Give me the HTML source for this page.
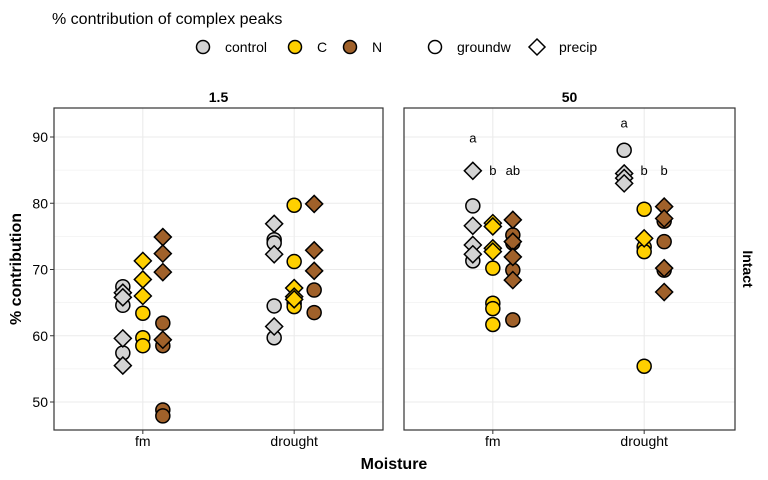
<!DOCTYPE html>
<html><head><meta charset="utf-8"><style>body{margin:0;background:#fff}svg{display:block;font-family:"Liberation Sans",Arial,sans-serif}</style></head>
<body>
<svg id="c" width="768" height="480"></svg>
<script>
const categories = ["fm","drought"];
const panels = ["1.5","50"];
const treatments = ["control","C","N"];
const yTicks = [50,60,70,80,90];
const p15_fm_control_g = [67.4,64.6,57.4];
const p15_fm_control_p = [66.5,65.8,59.6,55.5];
const p15_fm_C_g = [63.4,59.7,58.5];
const p15_fm_C_p = [71.3,68.5,66.0];
const p15_fm_N_g = [61.9,58.5,48.8,47.9];
const p15_fm_N_p = [74.9,72.4,69.6,59.4];
const p15_dr_control_g = [74.5,74.0,64.5,59.7];
const p15_dr_control_p = [76.9,72.3,61.4];
const p15_dr_C_g = [79.7,71.2,64.9,64.4];
const p15_dr_C_p = [67.2,65.9,65.5];
const p15_dr_N_g = [66.9,63.5];
const p15_dr_N_p = [79.9,72.9,69.8];
const p50_fm_control_g = [79.6,71.3];
const p50_fm_control_p = [84.9,76.6,73.7,72.3];
const p50_fm_C_g = [70.2,64.9,64.1,61.7];
const p50_fm_C_p = [77.0,76.5,73.2,72.7];
const p50_fm_N_g = [75.2,74.0,69.9,62.4];
const p50_fm_N_p = [77.5,74.2,71.9,68.4];
const p50_dr_control_g = [88.0];
const p50_dr_control_p = [84.5,83.8,83.0];
const p50_dr_C_g = [79.1,73.4,72.7,55.4];
const p50_dr_C_p = [74.7];
const p50_dr_N_g = [77.3,74.2,69.9];
const p50_dr_N_p = [79.5,77.7,70.2,66.6];
const letters50_fm = ["a","b","ab"];
const letters50_dr = ["a","b","b"];
const letterY50_fm = [89.9,85.0,85.0];
const letterY50_dr = [92.2,85.0,85.0];

const data = [
 [[[p15_fm_control_g,p15_fm_control_p],[p15_fm_C_g,p15_fm_C_p],[p15_fm_N_g,p15_fm_N_p]],
  [[p15_dr_control_g,p15_dr_control_p],[p15_dr_C_g,p15_dr_C_p],[p15_dr_N_g,p15_dr_N_p]]],
 [[[p50_fm_control_g,p50_fm_control_p],[p50_fm_C_g,p50_fm_C_p],[p50_fm_N_g,p50_fm_N_p]],
  [[p50_dr_control_g,p50_dr_control_p],[p50_dr_C_g,p50_dr_C_p],[p50_dr_N_g,p50_dr_N_p]]]];
const fills = {control:"#d3d3d3",C:"#ffd000",N:"#a0612a"};
const svg = document.getElementById('c');
const NS = "http://www.w3.org/2000/svg";
function mk(t,a,txt,parent){const e=document.createElementNS(NS,t);for(const k in a)e.setAttribute(k,a[k]);if(txt!=null)e.textContent=txt;(parent||svg).appendChild(e);return e;}
const pTop=108,pBot=430;
const yScale = v => 402-(v-50)*6.625;
const panelX = [54,404], panelW = [329,331];
const xCat = (p,i) => panelX[p] + 329*(0.27+0.46*i);
let e;
e=mk('text',{x:52,y:24,'font-size':16,fill:'#000'},'% contribution of complex peaks');


const lg = mk('g',{});


const legItems=[[203,'control',fills.control,'c'],[295,'C',fills.C,'c'],[350,'N',fills.N,'c'],[435,'groundw','#fff','c'],[537,'precip','#fff','d']];
legItems.forEach(it=>{
 const g=mk('g',{},null,lg);
 
 
 if(it[3]=='c') mk('circle',{cx:it[0],cy:47,r:6.5,fill:it[2],stroke:'#000','stroke-width':1.5},null,g);
 else mk('path',{d:`M${it[0]} 39 L${it[0]+8} 47 L${it[0]} 55 L${it[0]-8} 47Z`,fill:'#fff',stroke:'#000','stroke-width':1.5},null,g);
 mk('text',{x:it[0]+22,y:52,'font-size':14},it[1],g);
});
for(let p=0;p<2;p++){
 const pg=mk('g',{});
 
 
 const x0=panelX[p],x1=x0+panelW[p];
 for(let v=45;v<=95;v+=5){const yy=yScale(v);if(yy<pTop||yy>pBot)continue;
  mk('line',{x1:x0,x2:x1,y1:yy,y2:yy,stroke:'#ebebeb','stroke-width':v%10==0?1.1:0.6},null,pg);}
 categories.forEach((c,i)=>mk('line',{x1:xCat(p,i),x2:xCat(p,i),y1:pTop,y2:pBot,stroke:'#ebebeb','stroke-width':1.1},null,pg));
 e=mk('text',{x:(x0+x1)/2,y:102,'font-size':14,'font-weight':'bold','text-anchor':'middle'},panels[p],pg);
 
 
 categories.forEach((c,i)=>{
  e=mk('text',{x:xCat(p,i),y:446,'font-size':14,'text-anchor':'middle',fill:'#000'},c,pg);
  
  
  mk('line',{x1:xCat(p,i),x2:xCat(p,i),y1:pBot,y2:pBot+4,stroke:'#333'},null,pg);
  treatments.forEach((t,k)=>{
   const cx=xCat(p,i)+(k-1)*20;
   const gv=data[p][i][k][0], pv=data[p][i][k][1];
   gv.forEach(v=>{e=mk('circle',{cx:cx,cy:yScale(v),r:7,fill:fills[t],stroke:'#000','stroke-width':1.5},null,pg);
    
    });
   pv.forEach(v=>{const yy=yScale(v);e=mk('path',{d:`M${cx} ${yy-8.5} L${cx+8.5} ${yy} L${cx} ${yy+8.5} L${cx-8.5} ${yy}Z`,fill:fills[t],stroke:'#000','stroke-width':1.5},null,pg);
    
    });
  });
 });
 if(p==1){
  [[letters50_fm,letterY50_fm],[letters50_dr,letterY50_dr]].forEach((L,i)=>{
   L[0].forEach((s,k)=>{e=mk('text',{x:xCat(p,i)+(k-1)*20,y:yScale(L[1][k])+5,'font-size':13,'text-anchor':'middle'},s,pg);
    
    });
  });
 }
 mk('rect',{x:x0,y:pTop,width:panelW[p],height:pBot-pTop,fill:'none',stroke:'#333','stroke-width':1.2},null,pg);
}
yTicks.forEach(v=>{
 e=mk('text',{x:48,y:yScale(v)+5,'font-size':14,'text-anchor':'end',fill:'#000'},String(v));
 
 
 mk('line',{x1:50,x2:54,y1:yScale(v),y2:yScale(v),stroke:'#333'});
});
e=mk('text',{x:0,y:0,'font-size':16,'font-weight':'bold','text-anchor':'middle',transform:'translate(21,269) rotate(-90)'},'% contribution');


e=mk('text',{x:394,y:469,'font-size':16,'font-weight':'bold','text-anchor':'middle'},'Moisture');


e=mk('text',{x:0,y:0,'font-size':14,'font-weight':'bold','text-anchor':'middle',transform:'translate(743,269) rotate(90)'},'Intact');


</script>
</body></html>
